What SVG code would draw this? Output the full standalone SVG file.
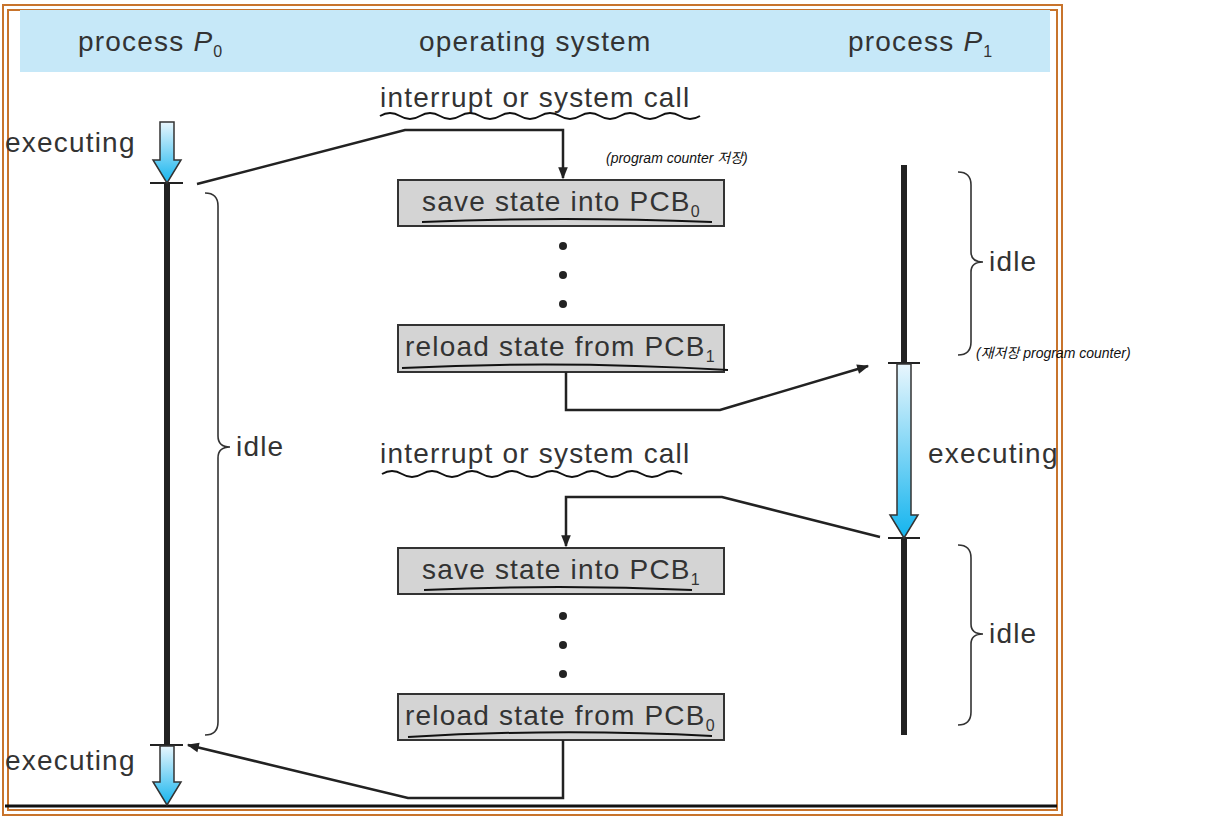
<svg xmlns="http://www.w3.org/2000/svg" width="1232" height="820" viewBox="0 0 1232 820">
<defs>
<linearGradient id="bg" x1="0" y1="0" x2="0" y2="1"><stop offset="0" stop-color="#e8f6fd"/><stop offset="1" stop-color="#14b4ee"/></linearGradient>
<marker id="ah" viewBox="0 0 10 10" refX="9" refY="5" markerWidth="14" markerHeight="12" orient="auto-start-reverse" markerUnits="userSpaceOnUse"><path d="M0,1 L10,5 L0,9 z" fill="#222"/></marker>
</defs>
<style>
text{font-family:"Liberation Sans",Arial,sans-serif;fill:#333;font-size:28px;letter-spacing:1.2px}
.box rect{fill:#d4d4d4;stroke:#333;stroke-width:2}
.ln{fill:none;stroke:#222;stroke-width:2.5}
.br{fill:none;stroke:#333;stroke-width:1.6}
.tl{stroke:#222;stroke-width:6}
.tk{stroke:#222;stroke-width:2}
.ar{fill:url(#bg);stroke:#333;stroke-width:1.5}
.hw{fill:none;stroke:#111;stroke-width:2}
.note{font-size:14px;font-style:italic;fill:#111;letter-spacing:0;font-family:"Liberation Sans","Noto Sans CJK KR",sans-serif}
</style>
<rect x="0" y="0" width="1232" height="820" fill="#fff"/>
<rect x="3" y="5" width="1059" height="810" fill="none" stroke="#c8742c" stroke-width="2"/>
<rect x="8" y="10" width="1049" height="800" fill="none" stroke="#c8742c" stroke-width="2"/>
<rect x="20" y="10" width="1030" height="62" fill="#c6e8f8"/>
<text x="78" y="51">process <tspan font-style="italic">P</tspan><tspan font-size="16" dy="6">0</tspan></text>
<text x="419" y="51">operating system</text>
<text x="848" y="51">process <tspan font-style="italic">P</tspan><tspan font-size="16" dy="6">1</tspan></text>
<line x1="5" y1="806" x2="1057" y2="806" stroke="#111" stroke-width="3"/>
<g id="p0">
<line class="tl" x1="167" y1="183" x2="167" y2="745"/>
<line class="tk" x1="150" y1="183" x2="183" y2="183"/>
<line class="tk" x1="150" y1="745" x2="183" y2="745"/>
<path class="ar" d="M160,122 H174 V160 H181 L167,183 L153,160 H160 Z"/>
<path class="ar" d="M160,746 H174 V782 H181 L167,805 L153,782 H160 Z"/>
<text x="5" y="152">executing</text>
<text x="5" y="770">executing</text>
<path class="br" d="M205,193 Q218,193 218,206 V436 Q218,447 230,447 Q218,447 218,458 V722 Q218,735 205,735"/>
<text x="236" y="456">idle</text>
</g>
<g id="p1">
<line class="tl" x1="904" y1="165" x2="904" y2="363"/>
<line class="tl" x1="904" y1="538" x2="904" y2="735"/>
<line class="tk" x1="888" y1="363" x2="920" y2="363"/>
<line class="tk" x1="888" y1="538" x2="920" y2="538"/>
<path class="ar" d="M897,364 H911 V515 H918 L904,538 L890,515 H897 Z"/>
<text x="928" y="463" letter-spacing="0.4">executing</text>
<path class="br" d="M958,172 Q971,172 971,185 V252 Q971,262 983,262 Q971,262 971,272 V342 Q971,355 958,355"/>
<text x="989" y="271">idle</text>
<path class="br" d="M958,545 Q971,545 971,558 V624 Q971,634 983,634 Q971,634 971,644 V712 Q971,725 958,725"/>
<text x="989" y="643">idle</text>
</g>
<g id="os">
<text x="380" y="107">interrupt or system call</text>
<path class="hw" d="M380,116 q10,-6 20,0 t20,0 t20,0 t20,0 t20,0 t20,0 t20,0 t20,0 t20,0 t20,0 t20,0 t20,0 t20,0 t20,0 t20,0 t20,0"/>
<text x="380" y="463">interrupt or system call</text>
<path class="hw" d="M382,474 q10,-6 20,0 t20,0 t20,0 t20,0 t20,0 t20,0 t20,0 t20,0 t20,0 t20,0 t20,0 t20,0 t20,0 t20,0 t20,0"/>
<g class="dots" fill="#222"><circle cx="563" cy="246" r="4"/><circle cx="563" cy="275" r="4"/><circle cx="563" cy="304" r="4"/><circle cx="563" cy="616" r="4"/><circle cx="563" cy="645" r="4"/><circle cx="563" cy="674" r="4"/></g>
</g>
<g id="save0" class="box"><rect x="398" y="180" width="326" height="46"/><text x="422" y="211">save state into PCB<tspan font-size="16" dy="6">0</tspan></text><path class="hw" d="M422,222 Q560,216 712,222"/></g>
<g id="reload1" class="box"><rect x="398" y="325" width="326" height="47"/><text x="405" y="356" letter-spacing="0.6">reload state from PCB<tspan font-size="16" dy="6">1</tspan></text><path class="hw" d="M402,368 Q560,360 728,370"/></g>
<g id="save1" class="box"><rect x="398" y="548" width="326" height="46"/><text x="422" y="579">save state into PCB<tspan font-size="16" dy="6">1</tspan></text><path class="hw" d="M424,590 Q560,584 692,590"/></g>
<g id="reload0" class="box"><rect x="398" y="694" width="326" height="46"/><text x="405" y="725" letter-spacing="0.6">reload state from PCB<tspan font-size="16" dy="6">0</tspan></text><path class="hw" d="M408,737 Q560,728 712,736"/></g>
<g id="connectors">
<path class="ln" d="M197,184 L405,130 H563 V178" marker-end="url(#ah)"/>
<path class="ln" d="M566,372 V410 H720 L868,366" marker-end="url(#ah)"/>
<path class="ln" d="M880,537 L722,497 H566 V546" marker-end="url(#ah)"/>
<path class="ln" d="M563,740 V798 H408 L188,745" marker-end="url(#ah)"/>
</g>
<text class="note" x="606" y="163">(program counter 저장)</text>
<text class="note" x="976" y="358">(재저장 program counter)</text>
</svg>
